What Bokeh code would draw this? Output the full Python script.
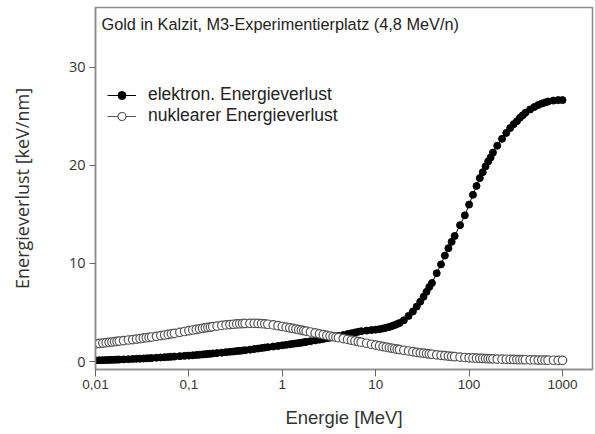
from bokeh.plotting import figure
from bokeh.models import FixedTicker, Label, Legend, LegendItem, ColumnDataSource
from bokeh.embed import file_html
from bokeh.resources import INLINE

# Energy grid (MeV)
energy_mev = [
    0.010, 0.011, 0.012, 0.013, 0.014, 0.015, 0.016, 0.017, 0.018, 0.020, 0.0225, 0.025, 0.0275,
    0.030, 0.0325, 0.035, 0.0375, 0.040, 0.045, 0.050, 0.055, 0.060, 0.065, 0.070, 0.080, 0.090,
    0.10, 0.11, 0.12, 0.13, 0.14, 0.15, 0.16, 0.17, 0.18, 0.20, 0.225, 0.25, 0.275,
    0.30, 0.325, 0.35, 0.375, 0.40, 0.45, 0.50, 0.55, 0.60, 0.65, 0.70, 0.80, 0.90,
    1.0, 1.1, 1.2, 1.3, 1.4, 1.5, 1.6, 1.7, 1.8, 2.0, 2.25, 2.5, 2.75,
    3.0, 3.25, 3.5, 3.75, 4.0, 4.5, 5.0, 5.5, 6.0, 6.5, 7.0, 8.0, 9.0,
    10, 11, 12, 13, 14, 15, 16, 17, 18, 20, 22.5, 25, 27.5,
    30, 32.5, 35, 37.5, 40, 45, 50, 55, 60, 65, 70, 80, 90,
    100, 110, 120, 130, 140, 150, 160, 170, 180, 200, 225, 250, 275,
    300, 325, 350, 375, 400, 450, 500, 550, 600, 650, 700, 800, 900,
    1000,
]

# electronic energy loss (keV/nm)
elektron = [
    0.12, 0.13, 0.14, 0.15, 0.16, 0.17, 0.18, 0.19, 0.20, 0.215, 0.235, 0.255, 0.275,
    0.29, 0.305, 0.32, 0.335, 0.35, 0.38, 0.41, 0.435, 0.46, 0.485, 0.505, 0.545, 0.575,
    0.60, 0.63, 0.66, 0.69, 0.72, 0.75, 0.77, 0.79, 0.82, 0.86, 0.90, 0.95, 0.99,
    1.02, 1.06, 1.09, 1.12, 1.15, 1.21, 1.27, 1.32, 1.37, 1.42, 1.46, 1.53, 1.59,
    1.65, 1.70, 1.75, 1.80, 1.84, 1.88, 1.92, 1.96, 2.00, 2.07, 2.15, 2.23, 2.30,
    2.37, 2.43, 2.49, 2.55, 2.60, 2.70, 2.80, 2.88, 2.96, 3.03, 3.09, 3.15, 3.20,
    3.25, 3.30, 3.37, 3.45, 3.53, 3.62, 3.72, 3.82, 3.93, 4.20, 4.65, 5.10, 5.60,
    6.10, 6.60, 7.10, 7.60, 8.00, 9.00, 9.90, 10.8, 11.55, 12.2, 12.8, 13.9, 14.9,
    16.0, 17.0, 17.9, 18.7, 19.3, 19.9, 20.4, 20.8, 21.3, 22.0, 22.7, 23.3, 23.8,
    24.2, 24.5, 24.85, 25.1, 25.35, 25.7, 25.95, 26.15, 26.3, 26.4, 26.5, 26.6, 26.65,
    26.65,
]

# nuclear energy loss (keV/nm)
nuklear = [
    1.80, 1.84, 1.88, 1.92, 1.96, 1.99, 2.02, 2.05, 2.08, 2.13, 2.19, 2.24, 2.29,
    2.34, 2.38, 2.42, 2.46, 2.50, 2.57, 2.64, 2.70, 2.76, 2.82, 2.87, 2.97, 3.06,
    3.14, 3.21, 3.27, 3.33, 3.38, 3.43, 3.47, 3.51, 3.55, 3.61, 3.68, 3.73, 3.77,
    3.80, 3.83, 3.85, 3.87, 3.88, 3.89, 3.89, 3.88, 3.86, 3.83, 3.80, 3.73, 3.65,
    3.57, 3.50, 3.43, 3.37, 3.31, 3.25, 3.20, 3.15, 3.10, 3.01, 2.91, 2.82, 2.74,
    2.66, 2.60, 2.54, 2.48, 2.43, 2.34, 2.25, 2.17, 2.10, 2.03, 1.97, 1.86, 1.76,
    1.67, 1.59, 1.52, 1.46, 1.40, 1.35, 1.30, 1.26, 1.22, 1.15, 1.07, 1.00, 0.94,
    0.89, 0.85, 0.81, 0.77, 0.74, 0.68, 0.63, 0.59, 0.55, 0.52, 0.49, 0.45, 0.41,
    0.38, 0.36, 0.34, 0.32, 0.31, 0.30, 0.29, 0.28, 0.27, 0.25, 0.24, 0.23, 0.22,
    0.21, 0.20, 0.19, 0.19, 0.18, 0.17, 0.16, 0.15, 0.15, 0.14, 0.14, 0.13, 0.12,
    0.12,
]

x_ticks = [0.01, 0.1, 1, 10, 100, 1000]
x_tick_labels = ["0,01", "0,1", "1", "10", "100", "1000"]
y_ticks = [0, 10, 20, 30]

title_text = "Gold in Kalzit, M3-Experimentierplatz (4,8 MeV/n)"
x_title = "Energie [MeV]"
y_title = "Energieverlust [keV/nm]"
series_names = ["elektron. Energieverlust", "nuklearer Energieverlust"]

src = ColumnDataSource(dict(e=energy_mev, el=elektron, nu=nuklear))

p = figure(width=595, height=434, x_axis_type="log",
           x_range=(0.01, 2094), y_range=(-0.815, 36.09),
           output_backend="svg", toolbar_location=None,
           min_border_left=95, min_border_right=3, min_border_top=7, min_border_bottom=65)

p.xgrid.visible = False
p.ygrid.visible = False
p.background_fill_color = "white"
p.border_fill_color = "white"
p.outline_line_color = "#8c8c8c"
p.outline_line_width = 1.5

# series
l1 = p.line("e", "el", source=src, line_color="black", line_width=1)
s1 = p.scatter("e", "el", source=src, size=7, marker="circle",
               fill_color="black", line_color="black", line_width=1)
l2 = p.line("e", "nu", source=src, line_color="#555555", line_width=1)
s2 = p.scatter("e", "nu", source=src, size=8.5, marker="circle",
               fill_color="white", line_color="#555555", line_width=1.2)

# axes
ax = p.xaxis[0]
ax.ticker = FixedTicker(ticks=x_ticks, minor_ticks=[])
ax.major_label_overrides = {t: l for t, l in zip(x_ticks, x_tick_labels)}
ax.axis_label = x_title
ax.axis_label_text_font = "Liberation Sans"
ax.axis_label_text_font_size = "18.5px"
ax.axis_label_text_font_style = "normal"
ax.axis_label_text_color = "#333333"
ax.axis_label_standoff = 15
ax.major_label_text_font = "Liberation Sans"
ax.major_label_text_font_size = "13.5px"
ax.major_label_text_color = "#333333"
ax.major_label_standoff = 3
ax.major_tick_in = 0
ax.major_tick_out = 7
ax.minor_tick_in = 0
ax.minor_tick_out = 0
ax.axis_line_color = "#8c8c8c"
ax.axis_line_width = 1.5
ax.major_tick_line_color = "#666666"

ay = p.yaxis[0]
ay.ticker = FixedTicker(ticks=y_ticks, minor_ticks=[])
ay.axis_label = y_title
ay.axis_label_text_font = "Open Sans"
ay.axis_label_text_font_size = "18px"
ay.axis_label_text_font_style = "normal"
ay.axis_label_text_color = "#333333"
ay.axis_label_standoff = 32
ay.major_label_text_font = "Open Sans"
ay.major_label_text_font_size = "14.5px"
ay.major_label_text_color = "#333333"
ay.major_label_standoff = 4
ay.major_tick_in = 0
ay.major_tick_out = 6
ay.minor_tick_in = 0
ay.minor_tick_out = 0
ay.axis_line_color = "#8c8c8c"
ay.axis_line_width = 1.5
ay.major_tick_line_color = "#666666"

# title inside plot
p.add_layout(Label(x=6, y=346, x_units="screen", y_units="screen", text=title_text,
                   text_font="Liberation Sans", text_font_size="16.3px",
                   text_color="#222222", text_baseline="middle", text_align="left"))

legend = Legend(items=[LegendItem(label=series_names[0], renderers=[l1, s1]),
                       LegendItem(label=series_names[1], renderers=[l2, s2])],
                location=(12, 243), orientation="vertical",
                padding=0, margin=0, spacing=-2,
                glyph_width=29, glyph_height=20, label_height=20,
                label_standoff=12,
                label_text_font="Liberation Sans", label_text_font_size="17.5px",
                label_text_color="#222222",
                border_line_color=None, background_fill_alpha=0)
p.add_layout(legend, "center")

html = file_html(p, INLINE)
open("out.html", "w").write(html)
